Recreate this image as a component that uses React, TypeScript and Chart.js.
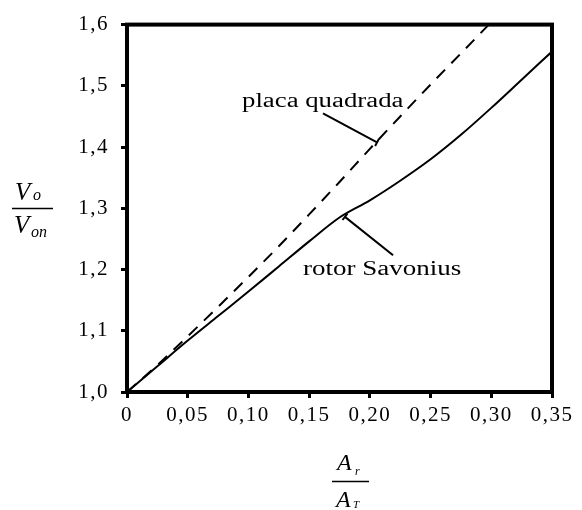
import React, { useEffect, useRef } from "react";
import { Chart, registerables } from "chart.js";

Chart.register(...registerables);

// ---- Data ----
const xTickLabels = ["0", "0,05", "0,10", "0,15", "0,20", "0,25", "0,30", "0,35"];
const yTickLabels = ["1,0", "1,1", "1,2", "1,3", "1,4", "1,5", "1,6"];

const placaX = [0, 0.025, 0.05, 0.075, 0.1, 0.125, 0.15, 0.175, 0.2, 0.225, 0.25, 0.275, 0.298];
const placaY = [1.0, 1.044, 1.091, 1.139, 1.188, 1.238, 1.29, 1.343, 1.397, 1.45, 1.502, 1.553, 1.6];

const rotorX = [0, 0.025, 0.05, 0.075, 0.1, 0.125, 0.15, 0.175, 0.2, 0.225, 0.25, 0.275, 0.3, 0.325, 0.35];
const rotorY = [1.0, 1.042, 1.084, 1.124, 1.164, 1.205, 1.246, 1.285, 1.313, 1.345, 1.38, 1.42, 1.464, 1.51, 1.556];

const placaLabel = "placa quadrada";
const rotorLabel = "rotor Savonius";

const SERIF = "'Liberation Serif', 'Times New Roman', serif";

const decorPlugin = {
  id: "decor",
  beforeDraw(chart: any) {
    (chart.ctx as any).letterSpacing = "1.5px";
  },
  afterDraw(chart: any) {
    const { ctx, chartArea: a, scales } = chart;
    const xs = scales.x;
    const ys = scales.y;
    const px = (v: number) => xs.getPixelForValue(v);
    const py = (v: number) => ys.getPixelForValue(v);
    ctx.save();
    (ctx as any).letterSpacing = "0px";
    ctx.strokeStyle = "#000";
    ctx.fillStyle = "#000";

    // frame
    ctx.lineWidth = 4;
    ctx.strokeRect(a.left, a.top, a.right - a.left, a.bottom - a.top);

    // leader lines
    const leader = (x1: number, y1: number, x2: number, y2: number, tickAtEnd: boolean) => {
      const ax = px(x1), ay = py(y1), bx = px(x2), by = py(y2);
      ctx.lineWidth = 2;
      ctx.beginPath();
      ctx.moveTo(ax, ay);
      ctx.lineTo(bx, by);
      ctx.stroke();
      const dx = bx - ax, dy = by - ay;
      const len = Math.hypot(dx, dy);
      const nx = -dy / len, ny = dx / len;
      const cx = tickAtEnd ? bx : ax;
      const cy = tickAtEnd ? by : ay;
      ctx.beginPath();
      ctx.moveTo(cx - nx * 4, cy - ny * 4);
      ctx.lineTo(cx + nx * 4, cy + ny * 4);
      ctx.stroke();
    };
    leader(0.1614, 1.4549, 0.2059, 1.4076, true);
    leader(0.1795, 1.2860, 0.2191, 1.2234, false);

    // annotation texts (stretched horizontally like the reference)
    const stretched = (text: string, x: number, y: number, sx: number, size: number, italic = false) => {
      ctx.save();
      ctx.translate(x, y);
      ctx.scale(sx, 1);
      ctx.font = `${italic ? "italic " : ""}${size}px ${SERIF}`;
      ctx.textAlign = "left";
      ctx.textBaseline = "alphabetic";
      ctx.fillText(text, 0, 0);
      ctx.restore();
    };
    stretched(placaLabel, px(0.0947), py(1.4652), 1.34, 20);
    stretched(rotorLabel, px(0.1449), py(1.1908), 1.35, 20);

    // Y axis title: V_o / V_on
    stretched("V", 15, 200, 1.0, 25, true);
    stretched("o", 33, 200, 1.0, 16, true);
    ctx.lineWidth = 1.5;
    ctx.beginPath();
    ctx.moveTo(12, 208.5);
    ctx.lineTo(53, 208.5);
    ctx.stroke();
    stretched("V", 14, 233, 1.0, 25, true);
    stretched("on", 31, 237, 1.0, 16, true);

    // X axis title: A_r / A_T
    stretched("A", 337, 470, 1.0, 24, true);
    stretched("r", 355, 475, 1.0, 12, true);
    ctx.beginPath();
    ctx.moveTo(332, 481.5);
    ctx.lineTo(369, 481.5);
    ctx.stroke();
    stretched("A", 336, 507, 1.0, 24, true);
    stretched("T", 353, 508, 1.0, 11, true);

    ctx.restore();
  },
};

export default function App() {
  const ref = useRef<HTMLCanvasElement | null>(null);

  useEffect(() => {
    if (!ref.current) return;
    const toPts = (xs: number[], ys: number[]) => xs.map((x, i) => ({ x, y: ys[i] }));
    const tickFont = { family: SERIF, size: 21 };
    const chart = new Chart(ref.current, {
      type: "line",
      data: {
        datasets: [
          {
            label: placaLabel,
            data: toPts(placaX, placaY),
            borderColor: "#000",
            borderWidth: 2,
            borderDash: [12, 9],
            pointRadius: 0,
            cubicInterpolationMode: "monotone",
            fill: false,
          },
          {
            label: rotorLabel,
            data: toPts(rotorX, rotorY),
            borderColor: "#000",
            borderWidth: 2,
            pointRadius: 0,
            cubicInterpolationMode: "monotone",
            fill: false,
          },
        ],
      },
      options: {
        responsive: false,
        animation: false,
        layout: { padding: { left: 0, top: 24, right: 30, bottom: 0 } },
        plugins: { legend: { display: false }, tooltip: { enabled: false } },
        scales: {
          x: {
            type: "linear",
            min: 0,
            max: 0.35,
            afterFit: (s: any) => {
              s.height = 118;
            },
            border: { display: false },
            grid: {
              drawOnChartArea: false,
              drawTicks: true,
              tickLength: 6,
              tickWidth: 3,
              color: "#000",
            },
            ticks: {
              stepSize: 0.05,
              color: "#000",
              font: tickFont,
              padding: 5,
              maxRotation: 0,
              autoSkip: false,
              callback: (_v: any, i: number) => xTickLabels[i] ?? "",
            },
          },
          y: {
            type: "linear",
            min: 1.0,
            max: 1.6,
            afterFit: (s: any) => {
              s.width = 127;
            },
            border: { display: false },
            grid: {
              drawOnChartArea: false,
              drawTicks: true,
              tickLength: 6,
              tickWidth: 3,
              color: "#000",
            },
            ticks: {
              stepSize: 0.1,
              color: "#000",
              font: tickFont,
              padding: 12,
              autoSkip: false,
              callback: (_v: any, i: number) => yTickLabels[i] ?? "",
            },
          },
        },
      },
      plugins: [decorPlugin],
    } as any);
    return () => chart.destroy();
  }, []);

  return (
    <div style={{ position: "fixed", left: 0, top: 0, width: 582, height: 510, background: "#fff" }}>
      <canvas ref={ref} width={582} height={510} style={{ display: "block" }} />
    </div>
  );
}
